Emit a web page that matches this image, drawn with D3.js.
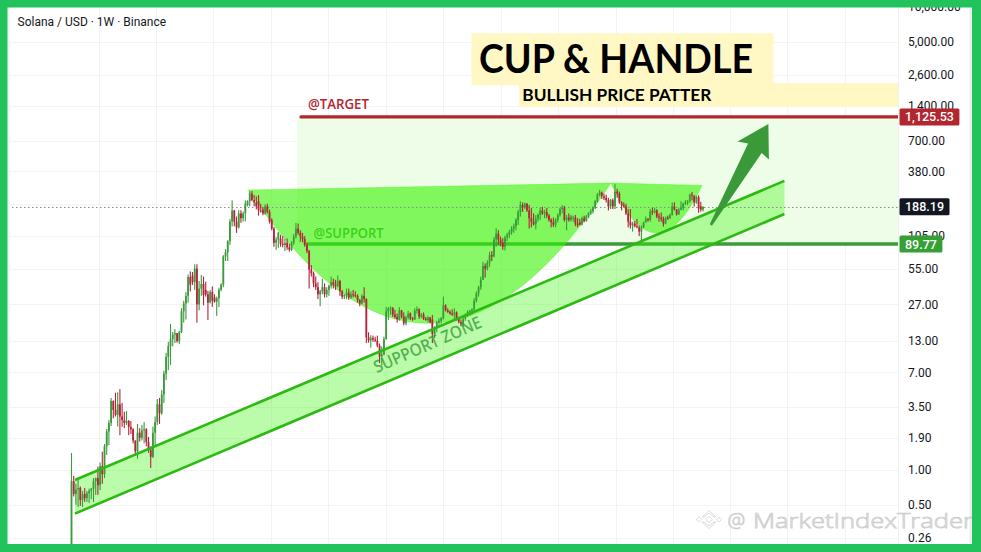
<!DOCTYPE html>
<html>
<head>
<meta charset="utf-8">
<title>Solana / USD · 1W · Binance — Cup &amp; Handle</title>
<script src="https://cdn.jsdelivr.net/npm/d3@7/dist/d3.min.js"></script>
<style>
  html, body { margin: 0; padding: 0; background: #ffffff; }
  svg { display: block; }
</style>
</head>
<body>
<svg id="chart" width="981" height="552"></svg>
<script>
// ---------------------------------------------------------------------------
// Weekly SOL/USD candles (Binance), one [open, high, low, close] row per week
// ---------------------------------------------------------------------------
const firstWeek = "2020-04-06";

const sol2020 = [
  [0.22,1.40,0.22,0.80],[0.80,0.89,0.59,0.62],[0.62,0.76,0.50,0.68],[0.68,0.85,0.48,0.70],
  [0.70,0.72,0.49,0.55],[0.55,0.66,0.48,0.62],[0.62,0.70,0.53,0.57],[0.57,0.66,0.53,0.63],
  [0.63,0.69,0.52,0.66],[0.66,0.70,0.56,0.69],[0.69,0.85,0.53,0.80],[0.80,0.86,0.61,0.85],
  [0.85,1.07,0.61,0.74],[0.74,1.16,0.67,1.08],[1.08,1.44,0.76,0.92],[0.92,1.68,0.85,1.60],
  [1.60,2.26,1.35,2.15],[2.15,2.70,1.64,2.55],[2.55,4.20,2.40,3.95],[3.95,4.00,2.80,3.30],
  [3.30,4.65,2.90,3.00],[3.00,4.70,2.37,3.70],[3.70,5.00,2.00,2.90],[2.90,3.80,2.37,2.70],
  [2.70,3.19,2.30,2.55],[2.55,3.23,2.45,2.65],[2.65,2.70,2.00,2.35],[2.35,2.65,2.05,2.25],
  [2.25,2.30,1.70,1.80],[1.80,1.80,1.33,1.45],[1.45,2.50,1.25,2.10],[2.10,2.30,1.76,1.90],
  [1.90,2.45,1.80,2.20],[2.20,2.60,1.70,2.25],[2.25,2.30,1.60,1.75],[1.75,1.93,1.41,1.50],
  [1.50,1.60,1.04,1.30],[1.30,2.37,1.27,2.10]
];

const sol2021 = [
  [2.10,2.90,1.64,2.60],[2.60,4.10,2.45,3.70],[3.70,4.20,2.50,3.10],[3.10,4.90,3.00,4.50],
  [4.50,7.20,3.80,6.80],[6.80,10.3,6.00,9.50],[9.50,12.8,7.30,11.8],[11.8,18.3,8.10,13.5],
  [13.5,15.6,11.7,14.8],[14.8,16.5,12.5,15.2],[15.2,15.3,12.6,13.0],[13.0,16.0,12.3,15.6],
  [15.6,25.0,15.2,23.5],[23.5,29.0,18.8,27.5],[27.5,34.5,20.0,32.0],[32.0,49.0,28.0,46.5],
  [46.5,52.0,35.0,40.0],[48.0,51.5,39.8,42.0],[42.0,60.0,36.0,55.0],[55.0,60.0,18.8,27.0],
  [27.0,43.0,24.0,37.0],[37.0,48.5,32.0,40.5],[40.5,47.0,26.5,32.5],[36.0,42.4,31.5,33.0],
  [33.0,35.3,19.8,28.0],[28.0,36.0,27.5,34.5],[34.5,38.7,25.7,29.0],[31.0,33.0,28.0,28.5],
  [28.5,31.5,21.5,30.5],[30.5,37.6,25.6,36.0],[36.0,41.0,35.0,40.0],[40.0,72.0,38.0,70.0],
  [70.0,81.0,64.0,76.0],[76.0,97.0,64.0,95.0],[95.0,148,88.0,140],[140,214,127,175],
  [175,176,128,140],[140,155,112,125],[125,176,122,165],[165,176,137,150],
  [150,171,140,165],[165,214,141,200],[195,214,190,210],[210,257,190,245],
  [245,257,210,215],[215,238,190,205],[205,232,179,190],[210,238,158,175],
  [175,200,168,172],[178,188,159,165],[165,198,160,190],[190,200,165,170]
];

const sol2022 = [
  [170,178,135,140],[145,150,118,122],[122,126,85,92],[92,103,80,98],
  [98,114,83,112],[100,108,85,90],[90,105,84,88],[88,100,78,92],
  [92,100,80,84],[84,90,77,80],[80,95,78,92],[92,110,88,104],
  [104,137,100,122],[122,135,108,112],[112,118,94,104],[104,112,93,99],
  [99,105,85,88],[88,92,75,78],[78,80,37,54],[54,59,47,50],
  [50,52,38,41],[41,47,36,38],[38,42,30,33],[33,36,26,35],
  [35,45,33,38],[38,41,31,33],[33,38,31,36],[36,40,32,39],
  [39,47,37,42],[42,45,37,40],[40,44,36,39],[39,48,38,43],
  [43,44,32,35],[35,36,30,31.5],[31.5,33,30,32.5],[32.5,37,30,34],
  [34,37,29.5,31],[31,35,30,33],[33,36,31,32.5],[32.5,35,31,32],
  [32,33,28,29.5],[29.5,30,26,27.5],[27.5,33,27,32],[32,38,28,30],
  [30,30.5,12.5,14],[14,15.5,12.6,13.2],[13.2,14.6,11.4,13.8],[13.8,14.5,12.8,13.4],
  [13.4,14.2,12.8,13.1],[13.1,14.5,11.5,11.9],[11.9,12.4,8.4,9.6],[9.6,11.7,8.0,10.0]
];

const sol2023 = [
  [10.0,14.2,9.8,13.5],[13.5,25.7,13.4,23.5],[23.5,25.7,19.8,24.8],[24.8,26.0,22.0,25.2],
  [25.2,25.5,21.0,22.0],[22.0,24.2,20.3,21.0],[21.0,22.5,18.8,20.0],[20.0,25.5,19.5,24.0],
  [24.0,24.2,20.5,21.2],[21.2,23.0,17.8,18.5],[18.5,21.5,17.8,20.8],[20.8,23.8,20.0,22.5],
  [22.5,23.0,19.8,20.5],[20.5,21.0,19.5,20.0],[20.0,25.0,19.8,23.8],[23.8,26.0,22.5,24.5],
  [24.5,25.0,20.2,21.2],[21.2,22.8,20.5,22.0],[22.0,23.0,19.8,20.3],[20.3,21.0,19.5,19.8],
  [19.8,21.5,18.8,20.8],[20.8,21.0,18.5,19.0],[20.0,21.9,12.5,15.0],[15.0,17.5,13.8,16.8],
  [16.8,19.5,15.5,18.8],[18.8,20.5,17.5,19.5],[19.5,21.0,18.0,20.5],[20.5,31.5,20.0,26.5],
  [26.5,27.0,23.5,24.0],[24.0,25.0,22.8,23.2],[23.2,24.0,22.0,22.5],[22.5,24.5,21.5,22.0],
  [22.0,25.0,20.0,23.0],[23.0,23.5,19.5,20.5],[20.5,21.0,18.5,19.0],[19.0,20.0,17.5,18.2],
  [18.2,21.0,17.3,20.2],[20.2,22.5,19.5,21.8],[21.8,24.0,21.0,23.2],[23.2,24.2,21.5,23.8],
  [23.8,25.0,22.0,24.5],[24.5,30.5,23.0,29.0],[29.0,35.0,28.0,33.5],[33.5,39.0,31.5,38.0],
  [38.0,47.0,36.0,44.0],[44.0,63.0,44.0,58.0],[58.0,61.0,46.0,55.0],[55.0,65.0,53.0,62.0],
  [62.0,77.0,57.0,72.0],[72.0,78.0,64.0,70.0],[70.0,103,69.0,98.0],[98.0,123,85.0,110]
];

const sol2024 = [
  [110,118,88,98],[98,104,86,92],[92,101,80,85],[85,106,79,102],
  [102,112,95,108],[108,119,101,114],[114,128,108,122],[122,135,112,128],
  [128,150,118,145],[145,177,131,170],[170,210,155,195],[195,205,170,185],
  [185,205,180,200],[200,203,170,175],[175,195,122,150],[150,184,125,140],
  [140,165,130,133],[133,160,120,148],[148,165,140,160],[160,185,145,175],
  [175,188,160,165],[165,178,150,170],[170,184,150,158],[158,163,140,145],
  [145,150,125,138],[138,152,126,132],[132,150,125,145],[145,165,138,160],
  [160,185,155,180],[180,195,165,185],[185,192,140,145],[145,160,118,152],
  [152,165,140,145],[145,160,140,155],[150,158,140,152],[152,160,128,135],
  [135,150,125,130],[138,148,130,132],[132,155,130,150],[150,158,138,142],
  [142,160,140,155],[155,170,150,165],[165,180,160,172],[172,190,165,185],
  [185,215,180,210],[210,248,205,240],[240,264,232,250],[250,255,220,232],
  [232,245,215,225],[225,240,205,215],[215,225,175,190],[190,220,180,215]
];

const sol2025 = [
  [215,222,180,190],[190,295,180,255],[255,270,225,245],[245,255,200,205],
  [205,210,175,195],[195,205,185,190],[190,200,160,165],[165,180,125,140],
  [140,180,122,130],[130,140,115,135],[135,142,125,128],[128,148,123,125],
  [125,130,105,115],[115,130,95,125],[125,140,123,138],[138,155,138,148],
  [148,150,140,145],[145,180,140,172],[172,185,160,168],[168,185,165,175],
  [175,180,150,155],[155,165,140,152],[152,168,140,148],[148,155,127,135],
  [135,155,133,152],[152,158,145,150],[150,165,148,160],[160,205,158,190],
  [190,206,175,178],[178,180,158,162],[162,185,160,178],[178,210,175,185],
  [185,205,175,200],[200,215,195,205],[205,215,195,210],[210,245,205,240],
  [240,253,214,235],[235,236,189,205],[205,235,200,228],[228,237,167,182],
  [190,208,171,178],[178,190,172,188.19]
];

// Price scale (log axis): grid levels, and the ones that carry a label
const priceTicks = [10000, 5000, 2600, 1400, 700, 380, 200, 105, 55, 27, 13, 7, 3.5, 1.9, 1, 0.5, 0.26];
const priceLabels = [10000, 5000, 2600, 1400, 700, 380, 105, 55, 27, 13, 7, 3.5, 1.9, 1, 0.5, 0.26];

// Marked price levels
const lastClose = 188.19;
const targetPrice = 1125.53;
const supportPrice = 89.77;

// Drawing anchors, each as [date, price]
const zoneStart = "2022-03-24";
const targetLineStart = "2022-04-06";
const supportLineStart = "2022-04-24";
const channelUpper = [["2020-04-17", 0.82], ["2026-06-22", 315]];
const channelLower = [["2020-04-17", 0.42], ["2026-06-22", 163]];
const cupArc = [["2021-10-20", 263], ["2023-05-21", 1.22], ["2024-12-17", 302]];      // start, bend, end
const handleArc = [["2024-12-17", 302], ["2025-05-09", 42.2], ["2025-10-03", 288]];  // start, bend, end
const breakoutArrow = [["2025-10-31", 131], ["2026-05-02", 978]];                     // tail, tip
const zoneLabelAt = ["2022-12-03", 6.85];

// Texts
const symbolText = "Solana / USD · 1W · Binance";
const titleText = "CUP & HANDLE";
const subtitleText = "BULLISH PRICE PATTER";
const targetText = "@TARGET";
const supportText = "@SUPPORT";
const zoneText = "SUPPORT  ZONE";
const watermarkText = "MarketIndexTrader";

// ---------------------------------------------------------------------------
// Layout and colours
// ---------------------------------------------------------------------------
const W = 981, H = 552;
const pane = { left: 8, right: 898, top: 8, bottom: 544 };
const axisRight = 972;
const colors = {
  frame: "#22c35d",
  up: "#3b9a3b",
  down: "#b5233a",
  grid: "#f3f3f3",
  zone: "#edfde7",
  target: "#b2262f",
  support: "#399c39",
  cup: "#39f303",
  channelFill: "#3df60c",
  channelLine: "#2cba12",
  arrow: "#3a9a3a",
  note: "#fff8c5",
  text: "#131722"
};
const uiFont = "Roboto, 'Noto Sans', 'Liberation Sans', sans-serif";
const noteFont = "'Open Sans', 'Noto Sans', sans-serif";
const titleFont = "Lato, 'Open Sans', sans-serif";

// ---------------------------------------------------------------------------
// Scales
// ---------------------------------------------------------------------------
const parse = d3.utcParse("%Y-%m-%d");
const start = parse(firstWeek);
const rows = [].concat(sol2020, sol2021, sol2022, sol2023, sol2024, sol2025);
const candles = rows.map((r, i) => ({
  date: d3.utcDay.offset(start, 7 * i),
  open: r[0], high: r[1], low: r[2], close: r[3]
}));

const x = d3.scaleUtc()
  .domain([candles[0].date, candles[candles.length - 1].date])
  .range([71.5, 703]);
const y = d3.scaleLog().domain([1, 5000]).range([470, 42]);
const pt = ([d, v]) => [x(parse(d)), y(v)];

// ---------------------------------------------------------------------------
// Drawing
// ---------------------------------------------------------------------------
const svg = d3.select("#chart");
const defs = svg.append("defs");
defs.append("clipPath").attr("id", "paneClip").append("rect")
  .attr("x", pane.left).attr("y", pane.top)
  .attr("width", pane.right - pane.left).attr("height", pane.bottom - pane.top);

svg.append("rect").attr("width", W).attr("height", H).attr("fill", "#ffffff");

const g = svg.append("g").attr("clip-path", "url(#paneClip)");

// Grid
const gridDates = d3.utcMonth.every(6).range(candles[0].date, x.invert(pane.right));
g.append("g").selectAll("line").data(gridDates).join("line")
  .attr("x1", d => Math.round(x(d)) + 0.5).attr("x2", d => Math.round(x(d)) + 0.5)
  .attr("y1", pane.top).attr("y2", pane.bottom)
  .attr("stroke", colors.grid).attr("stroke-width", 1);
g.append("g").selectAll("line").data(priceTicks).join("line")
  .attr("x1", pane.left).attr("x2", pane.right)
  .attr("y1", d => Math.round(y(d)) + 0.5).attr("y2", d => Math.round(y(d)) + 0.5)
  .attr("stroke", colors.grid).attr("stroke-width", 1);

// Profit zone between entry level and target
g.append("rect")
  .attr("x", x(parse(zoneStart)))
  .attr("y", y(targetPrice))
  .attr("width", pane.right - x(parse(zoneStart)))
  .attr("height", y(supportPrice) - y(targetPrice))
  .attr("fill", colors.zone);

// Target and support levels
g.append("line")
  .attr("x1", x(parse(targetLineStart))).attr("x2", pane.right)
  .attr("y1", y(targetPrice)).attr("y2", y(targetPrice))
  .attr("stroke", colors.target).attr("stroke-width", 3.2).attr("stroke-linecap", "round");
g.append("line")
  .attr("x1", x(parse(supportLineStart))).attr("x2", pane.right)
  .attr("y1", y(supportPrice)).attr("y2", y(supportPrice))
  .attr("stroke", colors.support).attr("stroke-width", 3.6);

g.append("text")
  .attr("x", x(parse(targetLineStart)) + 7).attr("y", y(targetPrice) - 7.5)
  .attr("font-family", noteFont).attr("font-weight", 600).attr("font-size", 13.5)
  .attr("textLength", 61).attr("lengthAdjust", "spacingAndGlyphs")
  .attr("fill", colors.target).text(targetText);
g.append("text")
  .attr("x", x(parse(supportLineStart)) + 7).attr("y", y(supportPrice) - 5.8)
  .attr("font-family", noteFont).attr("font-weight", 600).attr("font-size", 13.5)
  .attr("textLength", 70).attr("lengthAdjust", "spacingAndGlyphs")
  .attr("fill", colors.support).text(supportText);

// Cup and handle arcs (quadratic curves closed by their rim)
function arcPath(anchors) {
  const [a, c, b] = anchors.map(pt);
  return `M${a[0]},${a[1]}Q${c[0]},${c[1]} ${b[0]},${b[1]}Z`;
}
[cupArc, handleArc].forEach(a => {
  g.append("path").attr("d", arcPath(a))
    .attr("fill", colors.cup).attr("fill-opacity", 0.6)
    .attr("stroke", colors.cup).attr("stroke-opacity", 0.35).attr("stroke-width", 1);
});

// Rising support channel
const up0 = pt(channelUpper[0]), up1 = pt(channelUpper[1]);
const lo0 = pt(channelLower[0]), lo1 = pt(channelLower[1]);
g.append("path")
  .attr("d", `M${up0}L${up1}L${lo1}L${lo0}Z`)
  .attr("fill", colors.channelFill).attr("fill-opacity", 0.35);

// Last close marker line
g.append("line")
  .attr("x1", pane.left).attr("x2", pane.right)
  .attr("y1", Math.round(y(lastClose)) + 0.5).attr("y2", Math.round(y(lastClose)) + 0.5)
  .attr("stroke", "#8c8c8c").attr("stroke-width", 1).attr("stroke-dasharray", "1.5,2.5");

// Candles
const cg = g.append("g");
cg.selectAll("rect.wick").data(candles).join("rect").attr("class", "wick")
  .attr("x", d => x(d.date) - 0.55).attr("width", 1.1)
  .attr("y", d => y(d.high)).attr("height", d => Math.max(1, y(d.low) - y(d.high)))
  .attr("fill", d => d.close >= d.open ? colors.up : colors.down);
cg.selectAll("rect.body").data(candles).join("rect").attr("class", "body")
  .attr("x", d => x(d.date) - 0.9).attr("width", 1.8)
  .attr("y", d => y(Math.max(d.open, d.close)))
  .attr("height", d => Math.max(1, Math.abs(y(d.open) - y(d.close))))
  .attr("fill", d => d.close >= d.open ? colors.up : colors.down);

// Channel borders
[[up0, up1], [lo0, lo1]].forEach(([a, b]) => {
  g.append("line").attr("x1", a[0]).attr("y1", a[1]).attr("x2", b[0]).attr("y2", b[1])
    .attr("stroke", colors.channelLine).attr("stroke-width", 2.6);
});

// Channel caption, laid along the channel slope
const slope = Math.atan2(up1[1] - up0[1], up1[0] - up0[0]) * 180 / Math.PI;
const za = pt(zoneLabelAt);
g.append("text")
  .attr("transform", `translate(${za[0]},${za[1]}) rotate(${slope - 0.8})`)
  .attr("font-family", noteFont).attr("font-weight", 600).attr("font-size", 17)
  .attr("textLength", 116).attr("lengthAdjust", "spacingAndGlyphs")
  .attr("fill", colors.support).attr("fill-opacity", 0.8)
  .text(zoneText);

// Breakout arrow
const [tail, tip] = breakoutArrow.map(pt);
const len = Math.hypot(tip[0] - tail[0], tip[1] - tail[1]);
const u = [(tip[0] - tail[0]) / len, (tip[1] - tail[1]) / len];
const n = [-u[1], u[0]];
const at = (a, b) => [tip[0] + u[0] * a + n[0] * b, tip[1] + u[1] * a + n[1] * b];
const arrowPts = [at(-len, -1.3), at(-27, -8), at(-30.5, -18), at(0, 0), at(-30.5, 18), at(-28.5, 8.5), at(-len, 1.3)];
g.append("path").attr("d", "M" + arrowPts.join("L") + "Z").attr("fill", colors.arrow);

// Title notes
g.append("rect").attr("x", 471.5).attr("y", 33.3).attr("width", 302).attr("height", 52).attr("fill", colors.note);
g.append("rect").attr("x", 519).attr("y", 83).attr("width", 420).attr("height", 24).attr("fill", colors.note);
g.append("text").attr("x", 479).attr("y", 72.7)
  .attr("font-family", titleFont).attr("font-weight", 700).attr("font-size", 40)
  .attr("textLength", 274).attr("lengthAdjust", "spacingAndGlyphs")
  .attr("fill", "#000000").text(titleText);
g.append("text").attr("x", 522.3).attr("y", 100.8)
  .attr("font-family", titleFont).attr("font-weight", 700).attr("font-size", 17)
  .attr("textLength", 189).attr("lengthAdjust", "spacingAndGlyphs")
  .attr("fill", "#000000").text(subtitleText);

// Symbol header
g.append("text").attr("x", 17.5).attr("y", 25.6)
  .attr("font-family", uiFont).attr("font-size", 12).attr("fill", colors.text)
  .text(symbolText);

// ---------------------------------------------------------------------------
// Price axis
// ---------------------------------------------------------------------------
const ax = svg.append("g");
ax.append("rect").attr("x", pane.right).attr("y", 0).attr("width", axisRight - pane.right).attr("height", H).attr("fill", "#ffffff");
ax.append("line").attr("x1", pane.right + 0.5).attr("x2", pane.right + 0.5).attr("y1", 0).attr("y2", H)
  .attr("stroke", "#f0f0f0");
ax.append("rect").attr("x", axisRight - 2.5).attr("y", 0).attr("width", 2.5).attr("height", H).attr("fill", "#ececef");
ax.append("rect").attr("x", 7.5).attr("y", 0).attr("width", 2.5).attr("height", H).attr("fill", "#f0f1f4");

const fmt = d3.format(",.2f");
ax.selectAll("text.tick").data(priceLabels).join("text").attr("class", "tick")
  .attr("x", 908).attr("y", d => y(d)).attr("dy", "0.36em")
  .attr("font-family", uiFont).attr("font-size", 12).attr("fill", colors.text)
  .text(d => fmt(d));

const badges = [
  { value: targetPrice, fill: colors.target },
  { value: lastClose, fill: "#131722" },
  { value: supportPrice, fill: "#35a035" }
];
badges.forEach(b => {
  const t = ax.append("text")
    .attr("x", 905).attr("y", y(b.value)).attr("dy", "0.36em")
    .attr("font-family", uiFont).attr("font-weight", 500).attr("font-size", 12.5)
    .attr("fill", "#ffffff").text(fmt(b.value));
  const w = t.node().getComputedTextLength();
  ax.insert("rect", () => t.node())
    .attr("x", 899.5).attr("y", y(b.value) - 8.5)
    .attr("width", w + 11).attr("height", 17).attr("rx", 1.5)
    .attr("fill", b.fill);
});

// ---------------------------------------------------------------------------
// Watermark
// ---------------------------------------------------------------------------
const wm = svg.append("g").attr("stroke", "#cdcdcd").attr("stroke-width", 0.75)
  .attr("fill", "#ffffff").attr("fill-opacity", 0.85);
const logoC = [709, 519.5];
const diamond = (cx, cy, r) => `M${cx - r},${cy}L${cx},${cy - r}L${cx + r},${cy}L${cx},${cy + r}Z`;
wm.append("path").attr("d", diamond(logoC[0], logoC[1], 3.2));
wm.append("path").attr("d", diamond(logoC[0] - 10, logoC[1], 2.6));
wm.append("path").attr("d", diamond(logoC[0] + 10, logoC[1], 2.6));
wm.append("path").attr("d", `M${logoC[0] - 7},${logoC[1] - 2.5}L${logoC[0]},${logoC[1] - 9}L${logoC[0] + 7},${logoC[1] - 2.5}L${logoC[0] + 5},${logoC[1] - 2.5}L${logoC[0]},${logoC[1] - 6.5}L${logoC[0] - 5},${logoC[1] - 2.5}Z`);
wm.append("path").attr("d", `M${logoC[0] - 7},${logoC[1] + 2.5}L${logoC[0]},${logoC[1] + 9}L${logoC[0] + 7},${logoC[1] + 2.5}L${logoC[0] + 5},${logoC[1] + 2.5}L${logoC[0]},${logoC[1] + 6.5}L${logoC[0] - 5},${logoC[1] + 2.5}Z`);
wm.append("text").attr("x", 727.5).attr("y", 527.5)
  .attr("font-family", noteFont).attr("font-weight", 300).attr("font-size", 20)
  .text("@");
wm.append("text").attr("x", 753).attr("y", 527.5)
  .attr("font-family", noteFont).attr("font-weight", 300).attr("font-size", 20)
  .attr("textLength", 220).attr("lengthAdjust", "spacingAndGlyphs")
  .text(watermarkText);

// ---------------------------------------------------------------------------
// Frame
// ---------------------------------------------------------------------------
const frame = svg.append("g").attr("fill", colors.frame);
frame.append("rect").attr("x", 0).attr("y", 0).attr("width", W).attr("height", 7.5);
frame.append("rect").attr("x", 0).attr("y", pane.bottom).attr("width", W).attr("height", H - pane.bottom);
frame.append("rect").attr("x", 0).attr("y", 0).attr("width", 7.5).attr("height", H);
frame.append("rect").attr("x", axisRight).attr("y", 0).attr("width", W - axisRight).attr("height", H);
</script>
</body>
</html>
